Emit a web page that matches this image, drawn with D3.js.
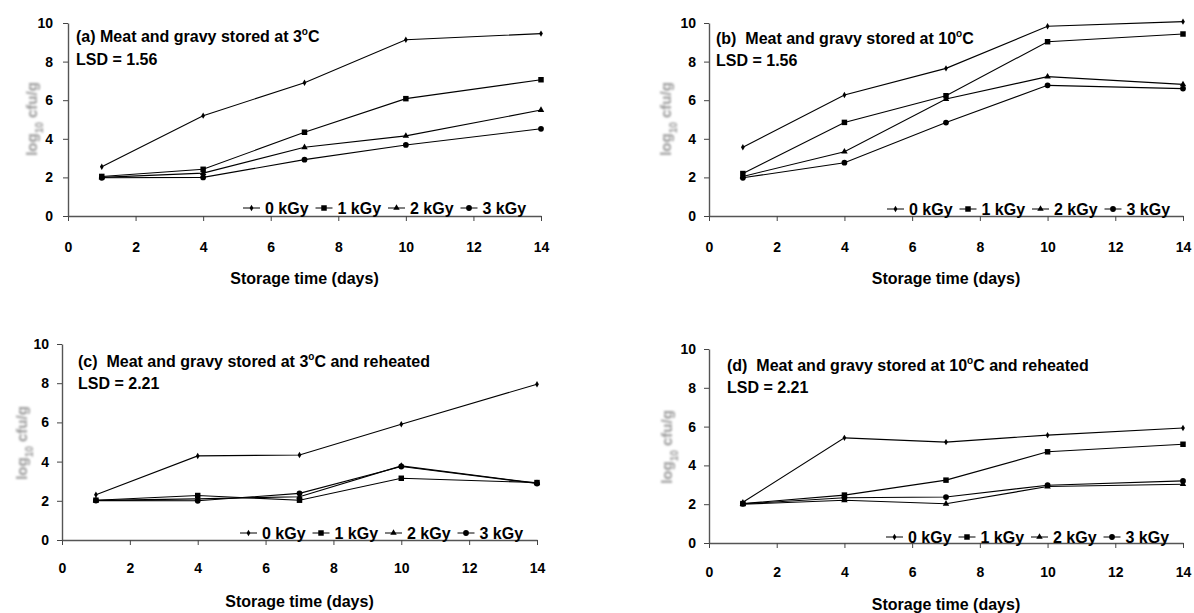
<!DOCTYPE html>
<html>
<head>
<meta charset="utf-8">
<script src="https://cdn.jsdelivr.net/npm/d3@7"></script>
<style>
  body { margin: 0; background: #fff; }
  svg { display: block; font-family: "Liberation Sans", Arial, sans-serif; }
  text { font-weight: bold; white-space: pre; }
</style>
</head>
<body>
<svg width="1194" height="613"></svg>
<script>
// Storage days and irradiation doses.
const days = [1, 4, 7, 10, 14];
const doses = ["0 kGy", "1 kGy", "2 kGy", "3 kGy"];
const xTicks = [0, 2, 4, 6, 8, 10, 12, 14];
const yTicks = [0, 2, 4, 6, 8, 10];

// log10 cfu/g, one row per dose.
const panelA = [
  [2.55, 5.2, 6.9, 9.13, 9.45],
  [2.05, 2.42, 4.34, 6.08, 7.06],
  [2.0, 2.22, 3.56, 4.15, 5.49],
  [1.98, 2.0, 2.92, 3.68, 4.52]
];
const panelB = [
  [3.56, 6.27, 7.65, 9.83, 10.07],
  [2.2, 4.85, 6.23, 9.03, 9.43],
  [2.05, 3.33, 6.06, 7.22, 6.82],
  [1.98, 2.76, 4.84, 6.77, 6.6]
];
const panelC = [
  [2.31, 4.29, 4.34, 5.91, 7.95],
  [2.03, 2.27, 2.03, 3.15, 2.93],
  [2.02, 2.1, 2.21, 3.78, 2.9],
  [2.01, 2.0, 2.38, 3.75, 2.88]
];
const panelD = [
  [2.1, 5.42, 5.2, 5.56, 5.93],
  [2.03, 2.47, 3.24, 4.7, 5.09],
  [2.0, 2.2, 2.02, 2.91, 3.03],
  [2.02, 2.33, 2.37, 2.98, 3.2]
];

const titles = [
  ["(a) Meat and gravy stored at 3", "C"],
  ["(b)  Meat and gravy stored at 10", "C"],
  ["(c)  Meat and gravy stored at 3", "C and reheated"],
  ["(d)  Meat and gravy stored at 10", "C and reheated"]
];
const lsdLabels = ["LSD = 1.56", "LSD = 1.56", "LSD = 2.21", "LSD = 2.21"];

// Marker shape for each dose.
const symbols = [d3.symbolDiamond, d3.symbolSquare, d3.symbolTriangle, d3.symbolCircle];
const symbolSizes = [12, 30, 18, 26];

// Where each panel sits on the page.
const layouts = [
  {left: 68, right: 541, top: 23, bottom: 216, pad: 10,
   titleX: 76, titleY: 42, lsdY: 65, ylabX: 32, ylabY: 119,
   tickY: 252, axisTitleY: 284, legendX: 265, legendY: 208},
  {left: 709, right: 1183, top: 23, bottom: 216, pad: 8,
   titleX: 716, titleY: 44, lsdY: 66, ylabX: 666, ylabY: 119,
   tickY: 252, axisTitleY: 284, legendX: 909, legendY: 209},
  {left: 62, right: 537, top: 344, bottom: 540, pad: 8,
   titleX: 78, titleY: 367, lsdY: 389, ylabX: 22, ylabY: 443,
   tickY: 573, axisTitleY: 607, legendX: 262, legendY: 533},
  {left: 709, right: 1183, top: 349, bottom: 543, pad: 8,
   titleX: 727, titleY: 371, lsdY: 393, ylabX: 667, ylabY: 447,
   tickY: 577, axisTitleY: 610, legendX: 908, legendY: 537}
];

function drawPanel(svg, layout, title, lsd, values) {
  const x = d3.scaleLinear().domain([0, 14]).range([layout.left, layout.right]);
  const y = d3.scaleLinear().domain([0, 10]).range([layout.bottom, layout.top]);
  const g = svg.append("g");

  // Axes.
  const xAxis = g.append("g")
    .attr("transform", "translate(0," + layout.bottom + ")")
    .call(d3.axisBottom(x).tickValues(xTicks).tickSize(5).tickSizeOuter(0)
      .tickPadding(layout.tickY - layout.bottom - 15));
  const yAxis = g.append("g")
    .attr("transform", "translate(" + layout.left + ",0)")
    .call(d3.axisLeft(y).tickValues(yTicks).tickSize(5).tickSizeOuter(0)
      .tickPadding(layout.pad));

  [xAxis, yAxis].forEach(a => {
    a.select(".domain").attr("stroke", "#555").attr("stroke-width", 1.4);
    a.selectAll(".tick line").attr("stroke", "#444");
    a.selectAll(".tick text")
      .attr("fill", "#000")
      .style("font-size", "14px")
      .style("font-family", "'Liberation Sans', Arial, sans-serif")
      .style("font-weight", "bold");
  });

  // Axis titles.
  g.append("text")
    .attr("x", (layout.left + layout.right) / 2)
    .attr("y", layout.axisTitleY)
    .attr("text-anchor", "middle")
    .style("font-size", "16px")
    .text("Storage time (days)");

  const ylab = g.append("text")
    .attr("transform", "translate(" + layout.ylabX + "," + layout.ylabY + ") rotate(-90)")
    .attr("text-anchor", "middle")
    .attr("dy", "0.35em")
    .attr("fill", "#999")
    .attr("filter", "url(#soft)")
    .style("font-size", "15px");
  ylab.append("tspan").text("log");
  ylab.append("tspan").attr("baseline-shift", "sub").style("font-size", "10px").text("10");
  ylab.append("tspan").text(" cfu/g");

  // Panel heading and LSD.
  const t = g.append("text")
    .attr("x", layout.titleX)
    .attr("y", layout.titleY)
    .style("font-size", "16px");
  t.append("tspan").text(title[0]);
  t.append("tspan").attr("dy", -7).style("font-size", "10px").text("o");
  t.append("tspan").attr("dy", 7).text(title[1]);

  g.append("text")
    .attr("x", layout.titleX)
    .attr("y", layout.lsdY)
    .style("font-size", "16px")
    .text(lsd);

  // Series lines and markers.
  const line = d3.line()
    .x((d, i) => x(days[i]))
    .y(d => y(d));

  values.forEach((row, s) => {
    g.append("path")
      .datum(row)
      .attr("fill", "none")
      .attr("stroke", "#000")
      .attr("stroke-width", 1.1)
      .attr("d", line);

    g.selectAll(".m" + s)
      .data(row)
      .enter()
      .append("path")
      .attr("class", "m" + s)
      .attr("transform", (d, i) => "translate(" + x(days[i]) + "," + y(d) + ")")
      .attr("d", d3.symbol().type(symbols[s]).size(symbolSizes[s]))
      .attr("fill", "#000");
  });

  // Legend.
  const legend = g.append("g")
    .attr("transform", "translate(" + layout.legendX + "," + layout.legendY + ")");
  doses.forEach((dose, s) => {
    const lx = s * 72.5;
    legend.append("line")
      .attr("x1", lx - 22).attr("x2", lx - 5)
      .attr("y1", 0).attr("y2", 0)
      .attr("stroke", "#000");
    legend.append("path")
      .attr("transform", "translate(" + (lx - 13.5) + ",0)")
      .attr("d", d3.symbol().type(symbols[s]).size(symbolSizes[s]))
      .attr("fill", "#000");
    legend.append("text")
      .attr("x", lx)
      .attr("y", 6)
      .style("font-size", "16px")
      .text(dose);
  });
}

window.addEventListener("load", function() {
  const svg = d3.select("svg");

  // Slight blur to mimic the soft y-axis label in the original.
  svg.append("defs").append("filter")
    .attr("id", "soft")
    .append("feGaussianBlur")
    .attr("stdDeviation", 0.9);

  const panels = [panelA, panelB, panelC, panelD];
  panels.forEach((values, i) => {
    drawPanel(svg, layouts[i], titles[i], lsdLabels[i], values);
  });
});
</script>
</body>
</html>
